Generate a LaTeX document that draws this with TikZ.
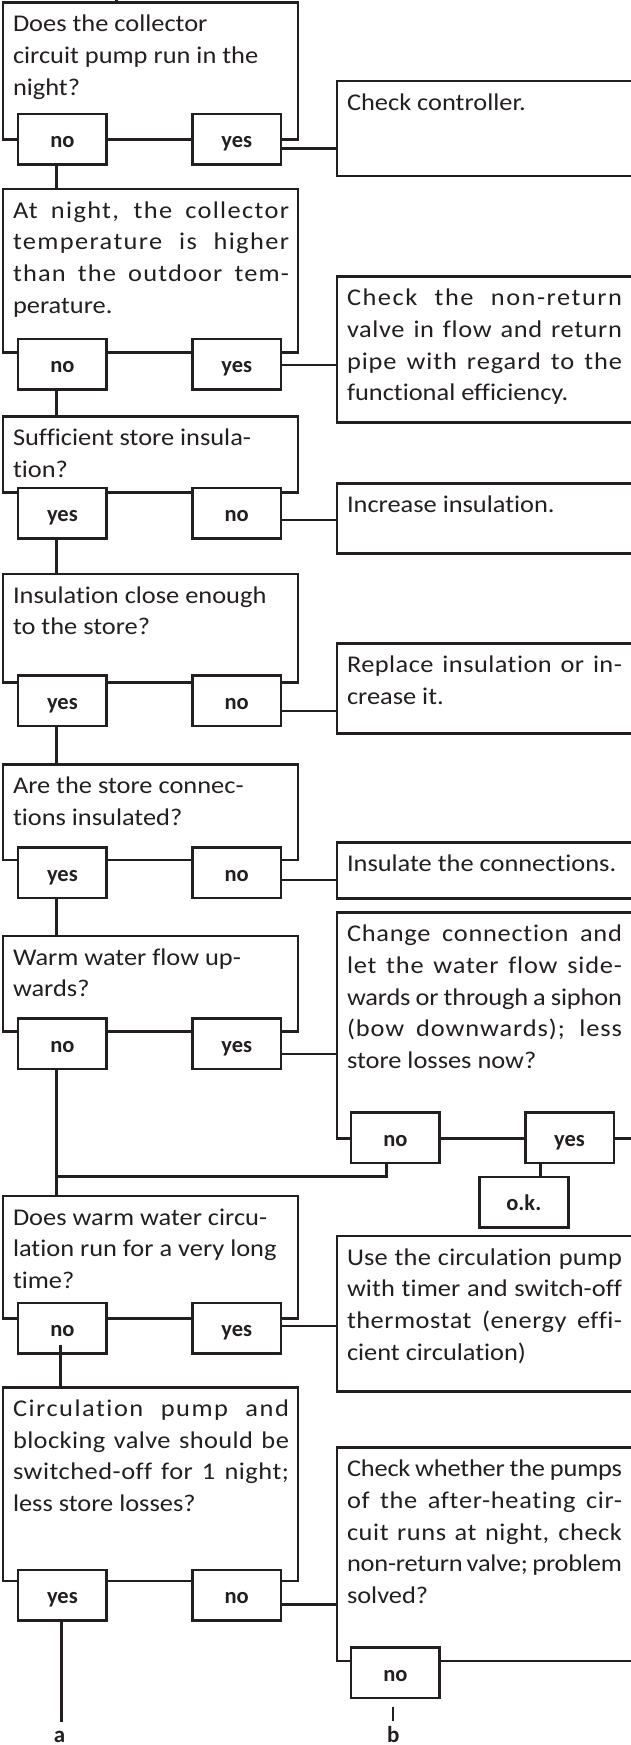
\documentclass[tikz,border=0pt]{standalone}
\usepackage{fontspec}
\setmainfont{Carlito}[Ligatures=NoCommon,FakeStretch=1.1]
\newfontfamily\labfont{Carlito}[Ligatures=NoCommon]
\definecolor{ink}{HTML}{231F20}
\makeatletter
\newcount\glc
\newcommand\fitline[2]{{%
  \setbox0=\hbox{#2}%
  \global\glc=0
  \@tfor\@fitx:=#2\do{\global\advance\glc by 1 }%
  \edef\lsval{\strip@pt\dimexpr (#1-\wd0)*60/24/\glc\relax}%
  \addfontfeature{LetterSpace=\lsval}%
  \makebox[#1][s]{#2}}}
\makeatother
\newcommand\jl[1]{\fitline{276pt}{#1}}
\newcommand\jr[1]{\fitline{275pt}{#1}}
\newcommand\bx{\spaceskip=0pt\xspaceskip=0pt\strut}
\begin{document}
\begin{tikzpicture}[x=1pt,y=-1pt,
  ln/.style={draw=ink,line width=2.5pt},
  qbox/.style={draw=ink,line width=2.5pt,inner sep=0,outer sep=0,minimum width=294.6pt,anchor=north west},
  rbox/.style={draw=ink,line width=2.5pt,inner sep=0,outer sep=0,minimum width=330pt,anchor=north west},
  ans/.style={draw=ink,fill=white,line width=2.5pt,inner sep=0,outer sep=0,minimum width=88.5pt,minimum height=50.5pt,text height=17pt,text depth=0pt,font=\labfont\bfseries\fontsize{22.5}{27}\selectfont,text=ink},
  txt/.style={anchor=north west,inner sep=0,outer sep=0,text width=300pt,align=flush left,font=\fontsize{24}{31.65}\selectfont,text=ink},
  lab/.style={font=\labfont\bfseries\fontsize{23}{27}\selectfont,text=ink,inner sep=0,anchor=base}]
\path[use as bounding box] (0,0) rectangle (631,1745);
\clip (0,0) rectangle (631,1745);
\fill[white] (0,0) rectangle (631,1745);
% question boxes
\node[qbox,minimum height=136.6pt] (q1) at (3.2,2.7) {};
\node[qbox,minimum height=163.7pt] (q2) at (3.2,189) {};
\node[qbox,minimum height=76pt] (q3) at (3.2,416.7) {};
\node[qbox,minimum height=108.3pt] (q4) at (3.2,574) {};
\node[qbox,minimum height=95.7pt] (q5) at (3.2,764.3) {};
\node[qbox,minimum height=95.7pt] (q6) at (3.2,936) {};
\node[qbox,minimum height=122.3pt] (q7) at (3.2,1196) {};
\node[qbox,minimum height=193.7pt] (q8) at (3.2,1387.3) {};
% result boxes
\node[rbox,minimum height=95pt] (r1) at (337.2,81) {};
\node[rbox,minimum height=146pt] (r2) at (337.2,276.7) {};
\node[rbox,minimum height=70pt] (r3) at (337.2,483.3) {};
\node[rbox,minimum height=90pt] (r4) at (337.2,643.3) {};
\node[rbox,minimum height=56pt] (r5) at (337.2,842.7) {};
\node[rbox,minimum height=226pt] (r6) at (337.2,912.7) {};
\node[rbox,minimum height=155.7pt] (r7) at (337.2,1236) {};
\node[rbox,minimum height=213.3pt] (r8) at (337.2,1447.7) {};
% texts
\node[txt] (tq1) at (13,9.8) {\bx Does the collector\\circuit pump run in the\\night?};
\node[txt] (tq2) at (13,196.1) {\bx\jl{At night, the collector}\\\jl{temperature is higher}\\\jl{than the outdoor tem-}\\perature.};
\node[txt] (tq3) at (13,423.8) {\bx Sufficient store insula-\\tion?};
\node[txt] (tq4) at (13,581.1) {\bx Insulation close enough\\to the store?};
\node[txt] (tq5) at (13,771.4) {\bx Are the store connec-\\tions insulated?};
\node[txt] (tq6) at (13,943.1) {\bx Warm water flow up-\\wards?};
\node[txt] (tq7) at (13,1203.1) {\bx Does warm water circu-\\lation run for a very long\\time?};
\node[txt] (tq8) at (13,1394.4) {\bx\jl{Circulation pump and}\\\jl{blocking valve should be}\\\jl{switched-off for 1 night;}\\less store losses?};
\node[txt] (tr1) at (347,88.1) {\bx Check controller.};
\node[txt] (tr2) at (347,283.8) {\bx\jr{Check the non-return}\\\jr{valve in flow and return}\\\jr{pipe with regard to the}\\functional efficiency.};
\node[txt] (tr3) at (347,490.4) {\bx Increase insulation.};
\node[txt] (tr4) at (347,650.4) {\bx\jr{Replace insulation or in-}\\crease it.};
\node[txt] (tr5) at (347,849.8) {\bx Insulate the connections.};
\node[txt] (tr6) at (347,919.8) {\bx\jr{Change connection and}\\\jr{let the water flow side-}\\\jr{wards or through a siphon}\\\jr{(bow downwards); less}\\store losses now?};
\node[txt] (tr7) at (347,1243.1) {\bx\jr{Use the circulation pump}\\\jr{with timer and switch-off}\\\jr{thermostat (energy effi-}\\cient circulation)};
\node[txt] (tr8) at (347,1454.8) {\bx\jr{Check whether the pumps}\\\jr{of the after-heating cir-}\\\jr{cuit runs at night, check}\\\jr{non-return valve; problem}\\solved?};
% answer boxes
\node[ans] (a1l) at (62.4,139.3) {no};   \node[ans] (a1r) at (236.7,139.3) {yes};
\node[ans] (a2l) at (62.4,364.3) {no};   \node[ans] (a2r) at (236.7,364.3) {yes};
\node[ans] (a3l) at (62.4,513) {yes};    \node[ans] (a3r) at (236.7,513) {no};
\node[ans] (a4l) at (62.4,700.9) {yes};  \node[ans] (a4r) at (236.7,700.9) {no};
\node[ans] (a5l) at (62.4,872.7) {yes};  \node[ans] (a5r) at (236.7,872.7) {no};
\node[ans] (a6l) at (62.4,1043.8) {no};  \node[ans] (a6r) at (236.7,1043.8) {yes};
\node[ans] (a7l) at (62.4,1328) {no};    \node[ans] (a7r) at (236.7,1328) {yes};
\node[ans] (a8l) at (62.4,1595) {yes};   \node[ans] (a8r) at (236.7,1595) {no};
\node[ans] (b6l) at (395.4,1137.8) {no}; \node[ans] (b6r) at (569.5,1137.8) {yes};
\node[ans,minimum width=89pt] (ok) at (523.8,1202) {o.k.};
\node[ans] (b8l) at (395.4,1672.8) {no};
% helper coordinates
\coordinate (sx) at (56.3,0);
\coordinate (top0) at (116.7,-3);
\coordinate (h1) at (0,148.3);
\coordinate (h2) at (0,365);
\coordinate (h3) at (0,520);
\coordinate (h4) at (0,711);
\coordinate (h5) at (0,880);
\coordinate (h6) at (0,1054);
\coordinate (h7) at (0,1326);
\coordinate (h8) at (0,1604.3);
\coordinate (j6) at (56.3,1176.7);
\coordinate (okx) at (540.4,0);
\coordinate (c7) at (60.4,1345);
\coordinate (ax) at (61.6,0);
\coordinate (aend) at (61.6,1721.7);
\coordinate (bstart) at (393.2,1706.7);
\coordinate (bend) at (393.2,1721);
% connectors
\draw[ln] (top0) -- (top0 |- q1.north);
\draw[ln] (a1l.south -| sx) -- (q2.north -| sx);
\draw[ln] (a2l.south -| sx) -- (q3.north -| sx);
\draw[ln] (a3l.south -| sx) -- (q4.north -| sx);
\draw[ln] (a4l.south -| sx) -- (q5.north -| sx);
\draw[ln] (a5l.south -| sx) -- (q6.north -| sx);
\draw[ln] (a6l.south -| sx) -- (q7.north -| sx);
\draw[ln] (j6) -| ([xshift=-9.1pt]b6l.south);
\draw[ln] (b6r.south -| okx) -- (ok.north -| okx);
\draw[ln] (c7) -- (c7 |- q8.north);
\draw[ln] (a8l.south -| ax) -- (aend);
\draw[ln] (bstart) -- (bend);
\draw[ln] (a1r.east |- h1) -- (r1.west |- h1);
\draw[ln] (a2r.east |- h2) -- (r2.west |- h2);
\draw[ln] (a3r.east |- h3) -- (r3.west |- h3);
\draw[ln] (a4r.east |- h4) -- (r4.west |- h4);
\draw[ln] (a5r.east |- h5) -- (r5.west |- h5);
\draw[ln] (a6r.east |- h6) -- (r6.west |- h6);
\draw[ln] (a7r.east |- h7) -- (r7.west |- h7);
\draw[ln] (a8r.east |- h8) -- (r8.west |- h8);
% end labels
\node[lab] (la) at (59.5,1742.5) {a};
\node[lab] (lb) at (393.2,1742) {b};
\end{tikzpicture}
\end{document}
